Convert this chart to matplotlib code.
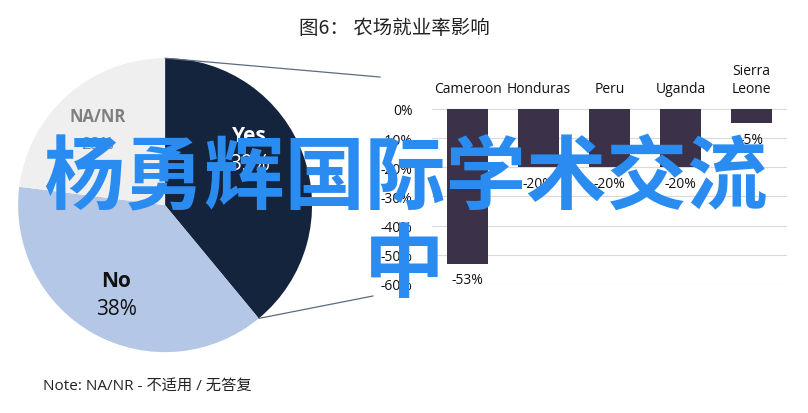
import matplotlib.pyplot as plt
import numpy as np
from matplotlib.patches import ConnectionPatch

plt.rcParams['font.family'] = ['Open Sans', 'Noto Sans CJK SC', 'DejaVu Sans']

# pie data
pie_labels = ['Yes', 'No', 'NA/NR']
pie_values = [39, 38, 23]
pie_colors = ['#14243d', '#b4c7e6', '#efefef']
pie_text_colors = ['white', '#111111', '#7f7f7f']

# bar data
countries = ['Cameroon', 'Honduras', 'Peru', 'Uganda', 'Sierra\nLeone']
change = [-53, -20, -20, -20, -5]
yticks = [0, -10, -20, -30, -40, -50, -60]

fig = plt.figure(figsize=(8.08, 4.14), dpi=100)

# pie chart
ax1 = fig.add_axes([0.0223, 0.147, 0.364, 0.710])
wedges, _ = ax1.pie(pie_values, colors=pie_colors, startangle=90,
                    counterclock=False, radius=1)
ax1.set_xlim(-1, 1)
ax1.set_ylim(-1, 1)
ax1.set_aspect('equal')
ax1.axis('off')

# label nudges (degrees), Excel puts "Yes" a bit higher
nudge = {'Yes': 14, 'No': 0, 'NA/NR': 0}
for w, lab, val, tc in zip(wedges, pie_labels, pie_values, pie_text_colors):
    ang = np.deg2rad((w.theta1 + w.theta2) / 2 + nudge[lab])
    x, y = 0.69 * np.cos(ang), 0.69 * np.sin(ang)
    big = lab != 'NA/NR'
    ax1.text(x, y + 0.09, lab, ha='center', va='center', color=tc,
             fontsize=15 if big else 12, fontweight='bold')
    ax1.text(x, y - 0.1, f'{val}%', ha='center', va='center', color=tc,
             fontsize=15 if big else 12)

# bar chart
ax2 = fig.add_axes([0.5347, 0.3116, 0.4394, 0.4251])
pos = np.arange(len(countries))
bars = ax2.bar(pos, change, width=0.58, color='#3b3148', zorder=2)
ax2.bar_label(bars, labels=[f'{v}%' for v in change], padding=6, fontsize=10,
              color='#111111')
ax2.set_xlim(-0.5, len(countries) - 0.5)
ax2.set_yticks(yticks)
ax2.set_yticklabels([f'{v}%' for v in yticks], fontsize=10, color='#111111')
ax2.set_xticks(pos)
ax2.set_xticklabels(countries, fontsize=10, color='#111111')
ax2.xaxis.tick_top()
ax2.tick_params(axis='x', length=0, pad=9)
ax2.tick_params(axis='y', length=0, pad=14)
ax2.grid(axis='y', color='#d9d9d9', linewidth=0.8, zorder=0)
ax2.set_ylim(-60, 0.3)
for s in ax2.spines.values():
    s.set_visible(False)

# connector lines between pie and bars
w0 = wedges[0]
t2 = np.deg2rad(w0.theta1)
con1 = ConnectionPatch(xyA=(0, 1), coordsA=ax1.transData,
                       xyB=(-0.146, 1.176), coordsB=ax2.transAxes,
                       color='#5d6b80', linewidth=0.9)
con2 = ConnectionPatch(xyA=(np.cos(t2), np.sin(t2)), coordsA=ax1.transData,
                       xyB=(-0.166, -0.068), coordsB=ax2.transAxes,
                       color='#5d6b80', linewidth=0.9)
fig.add_artist(con1)
fig.add_artist(con2)

fig.text(0.488, 0.932, '图6： 农场就业率影响', ha='center', va='center',
         fontsize=14, color='#222222', family=['Noto Sans CJK SC'])
fig.text(0.053, 0.066, 'Note: NA/NR - 不适用 / 无答复', ha='left', va='center',
         fontsize=11, color='#222222')

# overlay text
fig.text(0.502, 0.565, '杨勇辉国际学术交流', ha='center', va='center',
         fontsize=58, color='#2a8cf0', fontweight='bold',
         family=['Noto Sans CJK SC'], zorder=10)
fig.text(0.5, 0.355, '中', ha='center', va='center',
         fontsize=58, color='#2a8cf0', fontweight='bold',
         family=['Noto Sans CJK SC'], zorder=10)

fig.savefig('out.png', dpi=100)
